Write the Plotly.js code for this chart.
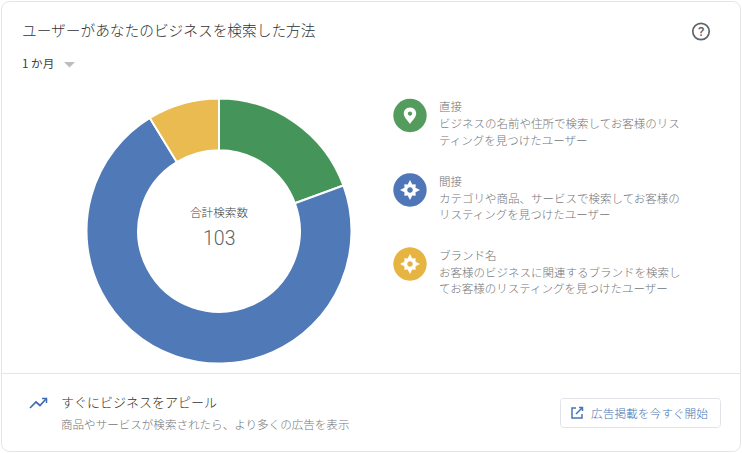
<!DOCTYPE html>
<html><head><meta charset="utf-8">
<script src="https://cdn.plot.ly/plotly-3.0.1.min.js"></script>
<style>html,body{margin:0;padding:0;background:#fff}#c{width:742px;height:453px}</style></head>
<body><div id="c"></div>
<script>
const categories = ["直接", "間接", "ブランド名"];
const searchCounts = [20, 74, 9];
const sliceColors = ["#45955a", "#5079b8", "#e9bb50"];
const iconColors = ["#539c5e", "#4f77b8", "#e6b440"];
const legendDescriptions = [
  ["ビジネスの名前や住所で検索してお客様のリス", "ティングを見つけたユーザー"],
  ["カテゴリや商品、サービスで検索してお客様の", "リスティングを見つけたユーザー"],
  ["お客様のビジネスに関連するブランドを検索し", "てお客様のリスティングを見つけたユーザー"]
];
const titleText = "ユーザーがあなたのビジネスを検索した方法";
const periodText = "1 か月";
const centerLabel = "合計検索数";
const centerTotal = "103";
const promoHeading = "すぐにビジネスをアピール";
const promoText = "商品やサービスが検索されたら、より多くの広告を表示";
const buttonText = "広告掲載を今すぐ開始";

const W = 742, H = 453;
const JP = '"Noto Sans CJK JP","Noto Sans",sans-serif';
const fx = x => x / W, fy = y => 1 - y / H;
function path(d) { // d: pixel-space svg path, converted to paper fractions
  return d.replace(/(-?[\d.]+),(-?[\d.]+)/g, (m, a, b) => fx(+a).toFixed(5) + "," + fy(+b).toFixed(5));
}
function roundRect(x0, y0, x1, y1, r) {
  const k = r * 0.45;
  return path(`M${x0 + r},${y0} L${x1 - r},${y0} C${x1 - k},${y0} ${x1},${y0 + k} ${x1},${y0 + r} L${x1},${y1 - r} C${x1},${y1 - k} ${x1 - k},${y1} ${x1 - r},${y1} L${x0 + r},${y1} C${x0 + k},${y1} ${x0},${y1 - k} ${x0},${y1 - r} L${x0},${y0 + r} C${x0},${y0 + k} ${x0 + k},${y0} ${x0 + r},${y0} Z`);
}
function circle(cx, cy, r) { return roundRect(cx - r, cy - r, cx + r, cy + r, r); }
function star(cx, cy, R, r) {
  let d = "";
  for (let i = 0; i < 16; i++) {
    const a = i * Math.PI / 8;
    const rad = i % 4 === 0 ? R : (i % 2 === 0 ? R * 0.8 : r);
    d += (i ? "L" : "M") + (cx + rad * Math.sin(a)).toFixed(2) + "," + (cy - rad * Math.cos(a)).toFixed(2) + " ";
  }
  return path(d + "Z");
}
const fillShape = (p, color) => ({type: "path", xref: "paper", yref: "paper", path: p, fillcolor: color, line: {width: 0}, layer: "above"});
const lineShape = (p, color, w) => ({type: "path", xref: "paper", yref: "paper", path: p, fillcolor: "rgba(0,0,0,0)", line: {color, width: w}, layer: "above"});
const text = (x, y, t, size, color, anchor, family, weight) => ({xref: "paper", yref: "paper", x: fx(anchor ? x : x - 2), y: fy(y - 0.4), text: t, showarrow: false,
  xanchor: anchor || "left", yanchor: "middle", align: anchor || "left", font: {family: family || JP, size, color, weight: weight || 300}});

const iconCY = [115.5, 190, 264], headY = [106, 181, 255], lineY = [[123, 140], [198, 214], [272, 288]];
const shapes = [
  lineShape(roundRect(1.5, 1.5, 740.5, 451.5, 8), "#e4e4e4", 1),
  lineShape(path("M2,373.5 L740,373.5"), "#e6e6e6", 1),
  fillShape(path("M64,62 L75,62 L69.5,67.5 Z"), "#bdbdbd"),
  lineShape(circle(701, 31.5, 8.2), "#5f6368", 1.7),
  lineShape(roundRect(560.5, 398.5, 720.5, 427.5, 3), "#e0e3e8", 1),
  lineShape(path("M30,408 L36,402 L40,405.5 L46,399"), "#3f6cb3", 1.7),
  lineShape(path("M42,398.5 L46.5,398.5 L46.5,403"), "#3f6cb3", 1.5),
  lineShape(path("M576,408 L572,408 L572,418 L582,418 L582,414"), "#4a74b6", 1.5),
  lineShape(path("M576,414 L582.5,407.5 M579,407.5 L582.5,407.5 L582.5,411"), "#4a74b6", 1.5)
];
iconCY.forEach((cy, i) => shapes.push(fillShape(circle(410, cy, 16.7), iconColors[i])));
// pin
shapes.push(fillShape(path("M410,107.5 C405.8,107.5 403.8,110.6 403.8,113.6 C403.8,117.5 408,121 410,124 C412,121 416.2,117.5 416.2,113.6 C416.2,110.6 414.2,107.5 410,107.5 Z"), "#fff"));
shapes.push(fillShape(circle(410, 113.6, 2.2), iconColors[0]));
[1, 2].forEach(i => {
  shapes.push(fillShape(star(410, iconCY[i], 10, 6), "#fff"));
  shapes.push(fillShape(circle(410, iconCY[i], 2.8), iconColors[i]));
});

const annotations = [
  text(22, 30, titleText, 14.7, "#2f3337"),
  text(22, 63.5, periodText, 11.6, "#3c4043", undefined, undefined, 400),
  text(219, 212, centerLabel, 11.6, "#3c4043", "center"),
  text(219, 239, centerTotal, 19.5, "#5f6368", "center", "Roboto", 300),
  text(701, 31.5, "?", 13, "#5f6368", "center", "Roboto", 500),
  text(61, 402, promoHeading, 13, "#2f3337"),
  text(61, 424, promoText, 11.55, "#72767a"),
  text(591, 413, buttonText, 11.7, "#4a74b6")
];
categories.forEach((c, i) => {
  annotations.push(text(439, headY[i], c, 11.5, "#6b6f73"));
  legendDescriptions[i].forEach((l, j) => annotations.push(text(439, lineY[i][j], l, 11.5, "#72767a")));
});

Plotly.newPlot("c", [{
  type: "pie", labels: categories, values: searchCounts, sort: false, direction: "clockwise", rotation: 0,
  hole: 0.61, textinfo: "none", hoverinfo: "none",
  marker: {colors: sliceColors, line: {color: "#ffffff", width: 2}},
  domain: {x: [fx(86.5), fx(351.5)], y: [fy(363.5), fy(98.5)]}
}], {
  width: W, height: H, margin: {l: 0, r: 0, t: 0, b: 0}, showlegend: false,
  paper_bgcolor: "#fff", plot_bgcolor: "#fff", shapes, annotations, font: {family: JP}
}, {displayModeBar: false, staticPlot: true});
</script></body></html>
